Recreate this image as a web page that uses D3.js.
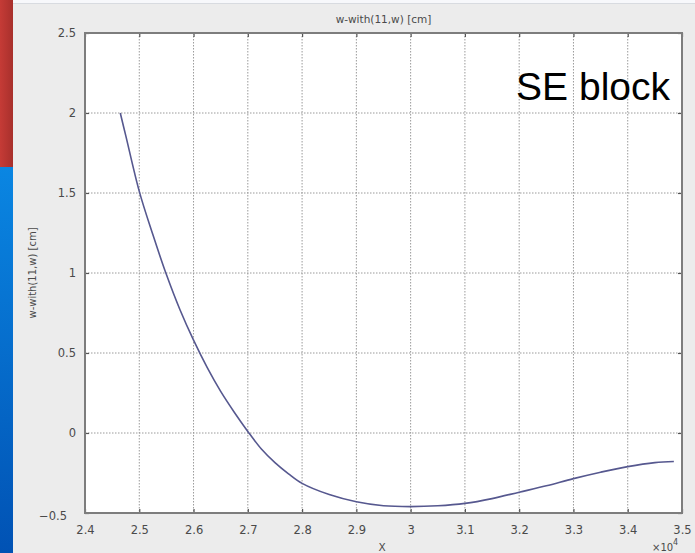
<!DOCTYPE html>
<html>
<head>
<meta charset="utf-8">
<script src="https://cdn.jsdelivr.net/npm/d3@7"></script>
<style>
  html, body { margin: 0; padding: 0; background: #ececec; overflow: hidden; }
  svg { display: block; }
</style>
</head>
<body>
<svg id="chart" width="695" height="553"></svg>
<script>
// Position along the structure (X) and deflection w-with(11,w) in cm
const xPositions = [24650, 24750, 25000, 25250, 25500, 25750, 26000, 26250, 26500, 26750, 27000,
                    27250, 27500, 27750, 28000, 28500, 29000, 29500, 30000, 30500, 31000, 31500, 32000,
                    32500, 33000, 33500, 34000, 34500, 34850];
const wValues    = [2.0, 1.86, 1.51, 1.24, 0.99, 0.77, 0.58, 0.41, 0.26, 0.13, 0.01,
                    -0.10, -0.185, -0.255, -0.315, -0.385, -0.43, -0.455, -0.46, -0.455, -0.44, -0.41, -0.37,
                    -0.33, -0.285, -0.245, -0.21, -0.185, -0.178];
const xTicks = [24000, 25000, 26000, 27000, 28000, 29000, 30000, 31000, 32000, 33000, 34000, 35000];
const yTicks = [-0.5, 0, 0.5, 1, 1.5, 2, 2.5];
const chartTitle = "w-with(11,w) [cm]";
const xLabel = "X";
const yLabel = "w-with(11,w) [cm]";
const overlayText = "SE block";

const svg = d3.select("#chart");
const W = 695, H = 553;
const plot = { left: 85, right: 682, top: 33, bottom: 513 };

// Slide background: window grey with the coloured slide edge on the left
const defs = svg.append("defs");
const blueGrad = defs.append("linearGradient").attr("id", "blueEdge")
  .attr("x1", 0).attr("y1", 0).attr("x2", 0).attr("y2", 1);
blueGrad.append("stop").attr("offset", "0%").attr("stop-color", "#0a86e2");
blueGrad.append("stop").attr("offset", "100%").attr("stop-color", "#0152b4");
const redGrad = defs.append("linearGradient").attr("id", "redEdge")
  .attr("x1", 0).attr("y1", 0).attr("x2", 1).attr("y2", 0);
redGrad.append("stop").attr("offset", "0%").attr("stop-color", "#c53b36");
redGrad.append("stop").attr("offset", "100%").attr("stop-color", "#a8302c");

svg.append("rect").attr("width", W).attr("height", H).attr("fill", "#ececec");
svg.append("rect").attr("x", 0).attr("y", 0).attr("width", W).attr("height", 3).attr("fill", "#f7f8fb");
svg.append("line").attr("x1", 0).attr("x2", W).attr("y1", 3.5).attr("y2", 3.5)
  .attr("stroke", "#d8dbe0").attr("stroke-width", 1);
svg.append("rect").attr("x", 0).attr("y", 0).attr("width", 13).attr("height", 167).attr("fill", "url(#redEdge)");
svg.append("rect").attr("x", 0).attr("y", 167).attr("width", 13).attr("height", H - 167).attr("fill", "url(#blueEdge)");

// Scales
const x = d3.scaleLinear().domain([24000, 35000]).range([plot.left, plot.right]);
const y = d3.scaleLinear().domain([-0.5, 2.5]).range([plot.bottom, plot.top]);

// Plot area
svg.append("rect").attr("x", plot.left).attr("y", plot.top)
  .attr("width", plot.right - plot.left).attr("height", plot.bottom - plot.top)
  .attr("fill", "#ffffff");

// Dotted grid
const grid = svg.append("g").attr("stroke", "#9a9a9a").attr("stroke-width", 1)
  .attr("stroke-dasharray", "1.5,1.5");
grid.selectAll(".gx").data(xTicks.slice(1, -1)).join("line")
  .attr("x1", d => x(d)).attr("x2", d => x(d))
  .attr("y1", plot.top).attr("y2", plot.bottom);
grid.selectAll(".gy").data(yTicks.slice(1, -1)).join("line")
  .attr("y1", d => y(d)).attr("y2", d => y(d))
  .attr("x1", plot.left).attr("x2", plot.right);

// Axes with inward ticks on all four sides
const fmtX = d => d3.format("~g")(d / 1e4);
const axisStyle = g => {
  g.select(".domain").remove();
  g.selectAll(".tick line").attr("stroke", "#555").attr("stroke-width", 1.2);
  g.selectAll(".tick text").attr("fill", "#4a4a4a")
    .style("font-family", "'DejaVu Sans', sans-serif").style("font-size", "11.5px");
};
svg.append("g").attr("transform", `translate(0,${plot.bottom})`)
  .call(d3.axisBottom(x).tickValues(xTicks).tickFormat(fmtX).tickSize(-4).tickPadding(13))
  .call(axisStyle);
svg.append("g").attr("transform", `translate(0,${plot.top})`)
  .call(d3.axisTop(x).tickValues(xTicks).tickFormat("").tickSize(-4))
  .call(axisStyle);
const yAxis = svg.append("g").attr("transform", `translate(${plot.left},0)`)
  .call(d3.axisLeft(y).tickValues(yTicks).tickFormat(d3.format("~g")).tickSize(-4).tickPadding(9))
  .call(axisStyle);
svg.append("g").attr("transform", `translate(${plot.right},0)`)
  .call(d3.axisRight(y).tickValues(yTicks).tickFormat("").tickSize(-4))
  .call(axisStyle);

// The lowest y label sits left of and just below the corner, clear of the first x label
yAxis.selectAll(".tick text").filter(d => d === -0.5).attr("dx", -9).attr("dy", "0.55em");

// Frame
svg.append("rect").attr("x", plot.left).attr("y", plot.top)
  .attr("width", plot.right - plot.left).attr("height", plot.bottom - plot.top)
  .attr("fill", "none").attr("stroke", "#7d7d7d").attr("stroke-width", 2);

// Deflection curve
const line = d3.line().x((d, i) => x(xPositions[i])).y(d => y(d)).curve(d3.curveCatmullRom);
svg.append("path").datum(wValues).attr("d", line)
  .attr("fill", "none").attr("stroke", "#56588f").attr("stroke-width", 1.6);

// Titles and labels
const labelFont = "'DejaVu Sans', sans-serif";
svg.append("text").attr("x", (plot.left + plot.right) / 2).attr("y", 23)
  .attr("text-anchor", "middle").attr("fill", "#4a4a4a")
  .style("font-family", labelFont).style("font-size", "10.5px").text(chartTitle);
svg.append("text").attr("x", 382).attr("y", 551)
  .attr("text-anchor", "middle").attr("fill", "#4a4a4a")
  .style("font-family", labelFont).style("font-size", "10.5px").text(xLabel);
svg.append("text").attr("transform", "translate(36,273) rotate(-90)")
  .attr("text-anchor", "middle").attr("fill", "#4a4a4a")
  .style("font-family", labelFont).style("font-size", "10px").text(yLabel);

// Exponent of the X axis
const expo = svg.append("text").attr("x", 652).attr("y", 551).attr("fill", "#4a4a4a")
  .style("font-family", labelFont).style("font-size", "10px");
expo.append("tspan").text("\u00d710");
expo.append("tspan").attr("dy", -6).style("font-size", "8px").text("4");

// Large annotation
svg.append("text").attr("x", 670).attr("y", 100).attr("text-anchor", "end")
  .attr("fill", "#000").style("font-family", "'Liberation Sans', Arial, sans-serif")
  .style("font-size", "39px").text(overlayText);
</script>
</body>
</html>
